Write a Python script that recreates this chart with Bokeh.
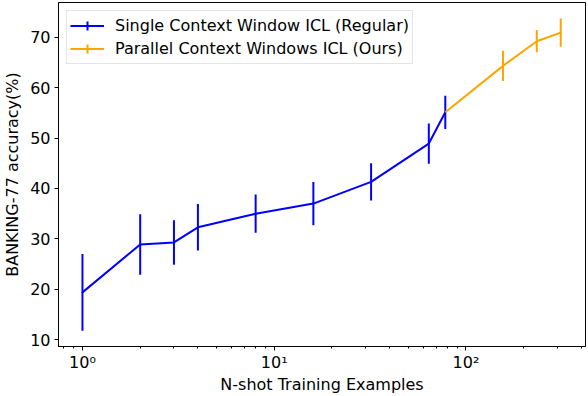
from bokeh.plotting import figure
from bokeh.models import ColumnDataSource, FixedTicker, Legend, LegendItem
from bokeh.embed import file_html
from bokeh.resources import INLINE

# Data
single_x = [1, 2, 3, 4, 8, 16, 32, 64, 78]
single_y = [19.4, 28.9, 29.3, 32.3, 35.0, 37.0, 41.3, 48.9, 55.1]
single_err = [7.6, 6.0, 4.4, 4.6, 3.8, 4.3, 3.7, 4.0, 3.3]

pcw_x = [78, 156, 234, 312]
pcw_y = [55.1, 64.3, 69.2, 70.9]
pcw_err = [None, 3.0, 2.2, 2.8]

major_ticks = [1, 10, 100]
major_labels = ["10⁰", "10¹", "10²"]
minor_ticks = [0.8, 0.9, 2, 3, 4, 5, 6, 7, 8, 9, 20, 30, 40, 50, 60, 70, 80, 90, 200, 300, 400]
y_ticks = [10, 20, 30, 40, 50, 60, 70]

BLUE = "#0000ff"
ORANGE = "#ffa500"
FONT = "DejaVu Sans"
FS = "16px"

p = figure(width=588, height=396, x_axis_type="log",
           x_range=(0.75, 420), y_range=(8.67, 76.87),
           output_backend="svg", toolbar_location=None,
           min_border_left=55, min_border_right=3, min_border_top=2, min_border_bottom=48)

p.xgrid.visible = False
p.ygrid.visible = False
p.outline_line_color = "black"
p.outline_line_width = 1
p.background_fill_color = "white"
p.border_fill_color = "white"

# single context window series
s_src = ColumnDataSource(dict(
    x=single_x, y=single_y,
    lo=[y - e for y, e in zip(single_y, single_err)],
    hi=[y + e for y, e in zip(single_y, single_err)]))
m1 = p.scatter("x", "y", source=s_src, marker="cross",
               line_color=BLUE, line_width=2, size=1)
l1 = p.line("x", "y", source=s_src, line_color=BLUE, line_width=2)
p.segment(x0="x", y0="lo", x1="x", y1="hi", source=s_src, line_color=BLUE, line_width=2)

# parallel context windows series
px = [x for x, e in zip(pcw_x, pcw_err) if e is not None]
py = [y for y, e in zip(pcw_y, pcw_err) if e is not None]
pe = [e for e in pcw_err if e is not None]
p_src = ColumnDataSource(dict(x=px, y=py,
                              lo=[y - e for y, e in zip(py, pe)],
                              hi=[y + e for y, e in zip(py, pe)]))
m2 = p.scatter("x", "y", source=p_src, marker="cross",
               line_color=ORANGE, line_width=2, size=1)
l2 = p.line(pcw_x, pcw_y, line_color=ORANGE, line_width=2)
p.segment(x0="x", y0="lo", x1="x", y1="hi", source=p_src, line_color=ORANGE, line_width=2)

legend = Legend(items=[
    LegendItem(label="Single Context Window ICL (Regular)", renderers=[l1, m1]),
    LegendItem(label="Parallel Context Windows ICL (Ours)", renderers=[l2, m2]),
], location="top_left")
legend.label_text_font = FONT
legend.label_text_font_size = FS
legend.label_text_color = "black"
legend.glyph_width = 34
legend.glyph_height = 23
legend.label_height = 23
legend.spacing = 0
legend.padding = 3
legend.margin = 8
legend.label_standoff = 11
legend.border_line_color = "#cccccc"
legend.border_line_width = 1
legend.background_fill_alpha = 0.8
p.add_layout(legend)

# axes
p.xaxis.ticker = FixedTicker(ticks=major_ticks, minor_ticks=minor_ticks)
p.xaxis.major_label_overrides = {t: l for t, l in zip(major_ticks, major_labels)}
p.yaxis.ticker = FixedTicker(ticks=y_ticks)
p.xaxis.axis_label = "N-shot Training Examples"
p.yaxis.axis_label = "BANKING-77 accuracy(%)"
for ax in (p.xaxis, p.yaxis):
    ax.axis_label_text_font = FONT
    ax.axis_label_text_font_size = FS
    ax.axis_label_text_font_style = "normal"
    ax.axis_label_text_color = "black"
    ax.major_label_text_font = FONT
    ax.major_label_text_font_size = FS
    ax.major_label_text_color = "black"
    ax.axis_line_color = "black"
    ax.axis_line_width = 1
    ax.major_tick_line_color = "black"
    ax.minor_tick_line_color = "black"
    ax.major_tick_in = 0
    ax.major_tick_out = 4
    ax.minor_tick_in = 0
    ax.minor_tick_out = 2
p.yaxis.minor_tick_out = 0
p.xaxis.axis_label_standoff = 0
p.yaxis.axis_label_standoff = 5
p.xaxis.major_label_standoff = 2
p.yaxis.major_label_standoff = 4

open("out.html", "w").write(file_html(p, INLINE))
